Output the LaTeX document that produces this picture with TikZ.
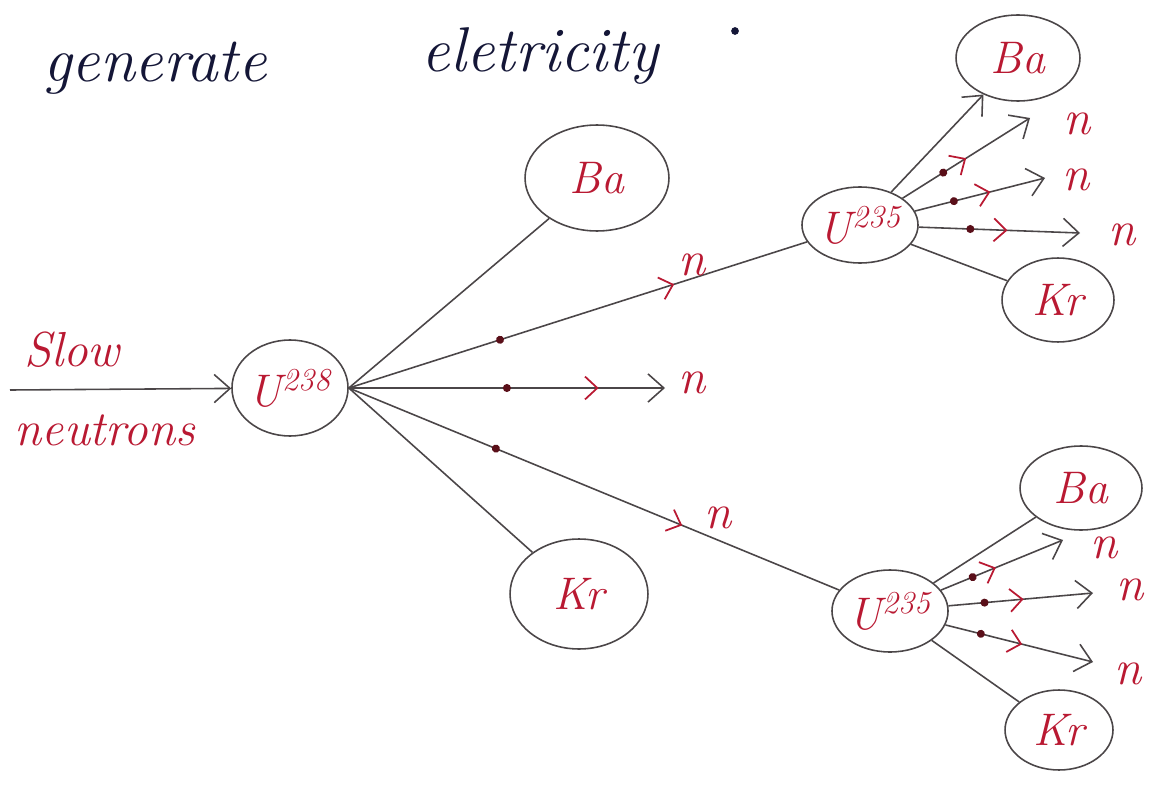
\documentclass[tikz,border=0pt]{standalone}
\usetikzlibrary{arrows.meta,decorations.markings,shapes.geometric}
\definecolor{ink}{RGB}{75,70,72}
\definecolor{redink}{RGB}{185,25,50}
\definecolor{dotc}{RGB}{90,15,25}
\definecolor{blueink}{RGB}{20,22,55}
\tikzset{
  nuc/.style 2 args={ellipse, draw=ink, line width=0.9pt, inner sep=0pt,
    minimum width=#1*0.04cm, minimum height=#2*0.04cm,
    text=redink, font=\fontsize{26}{30}\selectfont\itshape},
  lbl/.style={text=redink, font=\fontsize{28}{32}\selectfont\itshape, inner sep=0pt},
  hand/.style={text=blueink, font=\fontsize{36}{40}\selectfont\itshape, inner sep=0pt},
  wire/.style={draw=ink, line width=0.9pt},
  tipped/.style={wire, -{Straight Barb[length=9pt,width=16pt]}},
  dotarrow/.style 2 args={postaction={decorate}, decoration={markings,
    mark=at position #1 with {\fill[dotc] (0,0) circle (2.3pt);},
    mark=at position #2 with {\arrow[redink,line width=1pt]{Straight Barb[length=7pt,width=13pt]}}}}
}
\begin{document}
\begin{tikzpicture}[x=0.02cm,y=-0.02cm]
\useasboundingbox (0,0) rectangle (1159,787);

% title
\node[hand] (t1) at (155,68) {generate};
\node[hand] (t2) at (540,56) {eletricity};
\fill[blueink] (735,31) circle (2.2pt);

% nuclei
\node[nuc={56}{48}] (u238) at (290,388) {U\textsuperscript{238}};
\node[nuc={72}{53}] (ba1) at (597,178) {Ba};
\node[nuc={69}{55}] (kr1) at (579,594) {Kr};
\node[nuc={56}{38}] (u235a) at (860,225) {U\textsuperscript{235}};
\node[nuc={62}{43}] (ba2) at (1018,58) {Ba};
\node[nuc={56}{42}] (kr2) at (1058,300) {Kr};
\node[nuc={52}{41}] (u235b) at (890,611) {U\textsuperscript{235}};
\node[nuc={61}{42}] (ba3) at (1081,488) {Ba};
\node[nuc={54}{40}] (kr3) at (1059,730) {Kr};

% slow neutrons
\node[lbl] (slow) at (72,350) {Slow};
\node[lbl] (neut) at (105,430) {neutrons};
\coordinate (sn) at (10,390);
\draw[tipped] (sn) -- (u238);

% first fission
\coordinate (mid) at (665,388);
\draw[wire] (u238.east) -- (ba1);
\draw[wire] (u238.east) -- (kr1);
\draw[wire, dotarrow={0.33}{0.71}] (u238.east) -- (u235a);
\draw[tipped, dotarrow={0.5}{0.79}] (u238.east) -- (mid);
\draw[wire, dotarrow={0.30}{0.68}] (u238.east) -- (u235b);
\node[lbl] (n1) at (692,265) {n};
\node[lbl] (n2) at (692,383) {n};
\node[lbl] (n3) at (718,518) {n};

% upper fission
\coordinate (a1) at (1030,118);
\coordinate (a2) at (1045,178);
\coordinate (a3) at (1080,233);
\draw[tipped] (u235a) -- (ba2);
\draw[wire] (u235a) -- (kr2);
\draw[tipped, dotarrow={0.32}{0.50}] (u235a) -- (a1);
\draw[tipped, dotarrow={0.30}{0.58}] (u235a) -- (a2);
\draw[tipped, dotarrow={0.32}{0.55}] (u235a) -- (a3);
\node[lbl] (an1) at (1077,124) {n};
\node[lbl] (an2) at (1076,180) {n};
\node[lbl] (an3) at (1122,235) {n};

% lower fission
\coordinate (b1) at (1063,540);
\coordinate (b2) at (1093,593);
\coordinate (b3) at (1093,662);
\draw[wire] (u235b) -- (ba3);
\draw[wire] (u235b) -- (kr3);
\draw[tipped, dotarrow={0.26}{0.45}] (u235b) -- (b1);
\draw[tipped, dotarrow={0.25}{0.52}] (u235b) -- (b2);
\draw[tipped, dotarrow={0.24}{0.52}] (u235b) -- (b3);
\node[lbl] (bn1) at (1104,548) {n};
\node[lbl] (bn2) at (1130,590) {n};
\node[lbl] (bn3) at (1128,674) {n};
\end{tikzpicture}
\end{document}
